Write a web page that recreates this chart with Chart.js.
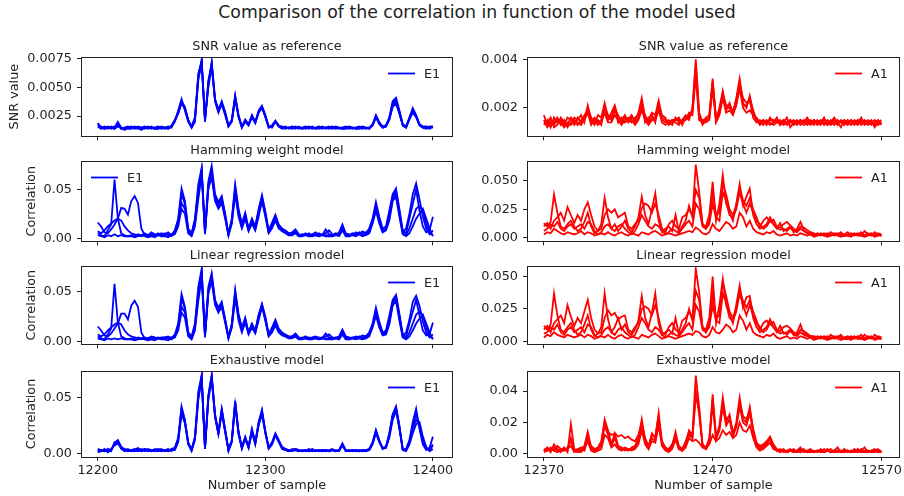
<!DOCTYPE html>
<html>
<head>
<meta charset="utf-8">
<script src="https://cdn.jsdelivr.net/npm/chart.js@4.4.0/dist/chart.umd.min.js"></script>
<style>
  body { margin: 0; width: 904px; height: 496px; background: #fff; position: relative; overflow: hidden; }
  canvas { position: absolute; }
  #main-title { position: absolute; top: 2px; left: 477px; transform: translateX(-50%); white-space: nowrap;
    font-family: 'DejaVu Sans'; font-size: 17.3px; line-height: 20px; color: #222; }
</style>
</head>
<body>
<div id="main-title">Comparison of the correlation in function of the model used</div>
<script>
// Sample axis (every 2nd sample)
const leftStart = 12200, rightStart = 12370, sampleStep = 2;
const xTicksE1 = [12200, 12300, 12400];
const xTicksA1 = [12370, 12470, 12570];

// y tick labels
const yTicksSnrE1 = ['0.0025', '0.0050', '0.0075'];
const yTicksSnrA1 = ['0.002', '0.004'];
const yTicksCorrE1 = ['0.00', '0.05'];
const yTicksCorrA1 = ['0.000', '0.025', '0.050'];
const yTicksExA1 = ['0.00', '0.02', '0.04'];

// SNR, E1 (x 1e-4)
const snrE1 = [
  [18,16,15,14,16,15,20,15,14,15, 16,15,14,15,16,15,14,15,16,15, 14,15,17,22,28,38,33,22,16,24,
   60,74,22,52,72,40,30,38,28,17, 22,43,26,16,22,18,26,20,30,34, 26,16,17,21,17,15,16,14,15,16,
   15,14,15,16,15,14,15,16,14,15, 16,15,14,15,16,15,14,15,16,15, 14,15,18,26,20,16,17,24,38,41,
   30,18,16,24,32,26,18,16,15,16, 16],
  [17,15,14,15,14,16,17,14,15,14, 14,16,15,13,15,14,16,14,15,14, 15,14,16,20,30,40,30,20,15,20,
   56,73,20,56,70,38,28,36,26,16, 20,40,24,15,20,17,24,19,28,33, 25,15,16,20,16,14,15,15,14,15,
   14,15,14,15,14,15,14,15,15,14, 15,14,15,14,15,14,15,14,15,14, 15,14,17,24,19,15,16,22,33,36,
   27,17,15,22,28,24,17,15,14,15, 15],
  [16,14,16,15,15,14,16,15,13,15, 15,14,15,14,15,15,15,14,14,15, 15,16,15,21,27,36,32,21,15,22,
   58,70,22,50,68,38,29,35,27,16, 21,41,25,16,21,17,25,20,28,32, 25,16,15,20,17,15,14,15,15,14,
   16,14,15,14,16,14,15,14,15,15, 14,15,15,14,14,15,15,14,14,15, 15,14,17,25,18,15,16,22,35,38,
   28,17,15,23,30,25,17,15,15,14, 16],
  [19,15,14,16,15,14,18,14,15,16, 15,15,16,15,14,16,15,15,14,16, 15,14,16,21,29,37,31,21,16,23,
   62,72,21,54,71,39,31,37,29,17, 21,42,25,15,21,18,25,19,29,33, 24,15,16,21,16,16,15,15,16,15,
   15,15,16,15,15,15,16,15,15,16, 15,16,15,15,15,16,15,15,15,16, 15,15,17,24,19,16,17,23,36,40,
   29,18,16,23,31,25,18,16,16,15, 16]
];

// Hamming weight model, E1 (x 1e-3)
const hwE1 = [
  [5,3,2,8,14,60,20,5,3,2, 3,2,4,3,5,3,6,4,3,5, 4,6,3,8,20,51,38,10,5,20,
   55,72,8,58,74,45,37,43,25,4, 20,55,30,15,26,10,20,12,30,44, 27,8,16,24,14,10,8,5,6,9,
   4,3,5,3,4,6,3,4,5,8, 4,3,6,14,5,4,3,6,4,7, 5,10,20,37,22,10,12,28,45,51,
   30,8,5,20,35,50,28,12,6,8, 22],
  [16,12,6,5,9,14,20,31,30,24, 38,43,36,10,3,2,4,3,5,3, 5,3,4,6,18,45,35,8,4,18,
   50,70,6,55,67,42,35,41,24,5, 18,52,28,14,24,9,18,11,28,42, 26,7,14,22,13,9,7,4,5,8,
   3,4,3,5,3,4,5,3,9,4, 3,5,4,12,4,3,5,4,6,5, 6,8,18,30,20,8,10,25,42,48,
   28,6,10,25,45,56,40,22,10,4, 8],
  [7,5,8,12,15,18,20,18,12,8, 5,4,3,2,4,3,2,3,4,2, 3,4,2,5,15,36,30,6,3,15,
   45,68,5,50,65,40,33,38,22,3, 16,48,25,12,22,8,16,9,25,40, 24,6,12,20,11,8,6,3,4,6,
   2,3,4,2,3,3,2,4,3,3, 2,4,3,10,3,2,4,3,5,3, 4,6,16,30,18,7,9,20,40,45,
   25,5,3,10,20,30,33,28,15,5, 3],
  [3,2,1,3,2,4,2,3,2,2, 2,1,2,3,2,1,2,1,3,2, 2,1,3,4,12,30,25,5,2,12,
   40,65,4,52,62,38,30,36,20,3, 15,45,22,10,20,7,15,8,22,38, 22,5,10,18,10,7,5,3,3,5,
   2,2,3,2,2,3,2,3,2,2, 2,3,2,8,2,2,3,2,4,2, 3,5,15,28,15,6,8,18,38,42,
   22,4,2,5,12,20,25,30,20,10, 2]
];

// Linear regression model, E1 (x 1e-3)
const lrE1 = [
  [5,3,2,7,13,58,19,5,3,2, 3,2,4,3,4,3,5,4,3,4, 4,5,3,7,18,48,35,9,5,18,
   55,73,8,55,69,42,34,40,23,4, 18,52,28,14,24,9,18,11,27,38, 25,7,14,22,13,9,7,5,5,8,
   4,3,5,3,4,5,3,4,5,7, 4,3,5,12,5,4,3,5,4,6, 5,9,18,34,20,9,11,26,42,47,
   28,7,5,18,30,42,26,11,6,7, 19],
  [15,11,6,5,8,13,18,28,28,22, 36,41,35,9,3,2,4,3,4,3, 4,3,4,5,16,43,33,8,4,16,
   50,71,6,52,66,40,32,38,22,5, 17,50,26,13,22,9,17,10,26,37, 24,7,13,20,12,8,6,4,5,7,
   3,4,3,4,3,4,4,3,8,4, 3,4,4,11,4,3,4,4,5,4, 5,7,16,29,18,8,9,23,40,46,
   26,6,9,22,40,46,36,20,9,4, 7],
  [7,5,7,11,14,17,19,17,11,7, 5,4,3,2,3,3,2,3,3,2, 3,4,2,5,14,35,29,6,3,14,
   46,68,5,48,63,39,31,36,21,3, 15,46,24,11,21,8,15,9,24,36, 22,6,11,18,10,7,5,3,4,5,
   2,3,3,2,3,3,2,3,3,3, 2,3,3,9,3,2,3,3,4,3, 4,6,15,28,17,7,8,19,38,44,
   24,5,3,9,18,27,30,26,14,5, 3],
  [3,2,1,3,2,3,2,3,2,2, 2,1,2,3,2,1,2,1,3,2, 2,1,3,4,11,29,24,5,2,11,
   41,64,4,50,60,37,29,35,19,3, 14,44,21,9,19,7,14,8,21,35, 21,5,9,16,9,6,5,3,3,5,
   2,2,3,2,2,3,2,3,2,2, 2,3,2,7,2,2,3,2,3,2, 3,5,14,26,14,6,7,17,36,41,
   21,4,2,5,11,18,23,27,18,9, 2]
];

// Exhaustive model, E1 (x 1e-3)
const exE1 = [
  [3,2,4,1,3,9,12,6,3,4, 2,3,5,2,4,3,2,4,3,2, 3,2,4,5,14,42,30,10,3,15,
   55,70,4,52,70,35,19,40,22,3, 12,47,20,5,15,6,22,10,28,39, 20,5,10,18,12,5,3,2,4,3,
   2,3,2,4,2,3,2,3,2,3, 4,2,3,9,3,2,3,2,3,2, 3,4,10,21,12,4,6,18,35,42,
   25,3,4,12,28,40,22,8,3,5, 15],
  [2,3,2,4,2,10,11,5,4,2, 3,2,3,4,2,4,3,2,3,4, 2,3,3,4,12,38,28,9,4,13,
   50,68,5,50,68,33,18,38,20,4, 11,45,18,6,14,5,20,9,26,37, 19,6,9,17,11,6,4,3,3,4,
   3,2,3,2,3,2,3,2,3,2, 3,3,2,8,2,3,2,3,2,3, 2,3,9,20,11,5,5,16,33,40,
   24,4,3,10,22,30,25,12,5,3, 8],
  [1,2,3,2,3,8,10,4,2,3, 2,2,3,2,3,2,3,3,2,3, 2,2,3,3,10,35,27,8,2,12,
   48,66,4,48,66,32,17,36,19,2, 10,43,17,4,13,5,19,8,25,35, 18,4,8,16,10,4,3,2,2,3,
   2,2,2,3,2,2,2,3,2,2, 3,2,2,7,2,2,3,2,2,2, 2,3,8,18,10,4,5,14,30,38,
   22,3,2,8,18,26,28,15,6,2, 4],
  [4,3,2,3,4,7,9,5,3,2, 3,4,2,3,4,3,2,3,4,3, 3,4,2,5,13,40,29,9,3,14,
   52,69,5,51,69,34,18,39,21,3, 11,46,19,5,14,6,21,9,27,38, 19,5,9,17,11,5,4,2,3,4,
   3,2,3,2,4,2,3,2,3,2, 3,2,3,8,3,2,2,3,2,3, 3,3,9,20,11,5,6,17,34,41,
   23,4,3,11,25,35,24,10,4,3, 7]
];

// SNR, A1 (x 1e-4)
const snrA1 = [
  [17,13,15,14,16,13,15,12,14,16, 15,17,14,21,15,13,17,16,22,15, 18,21,16,15,17,14,16,15,18,24,
   16,15,18,17,23,16,15,14,13,16, 14,15,17,16,19,40,18,14,16,17, 32,15,20,27,19,22,18,24,32,22,
   20,25,18,15,14,15,13,16,14,15, 13,14,16,12,14,15,13,14,16,14, 15,13,14,16,13,14,16,14,12,15,
   14,13,15,14,16,13,14,15,12,14, 15],
  [13,15,12,16,14,15,13,16,15,13, 16,14,17,19,14,16,14,15,20,16, 15,19,17,14,16,15,17,14,16,20,
   17,14,16,16,21,15,14,15,14,15, 15,14,16,17,18,35,16,15,15,16, 30,16,18,25,20,20,19,22,30,24,
   22,23,16,14,15,14,14,15,15,14, 14,15,13,14,15,14,15,13,14,15, 14,14,15,13,15,14,13,15,14,13,
   15,14,13,15,14,15,13,14,15,13, 14],
  [15,12,14,13,15,14,12,14,13,15, 14,13,15,18,13,15,13,14,18,14, 14,17,15,13,15,16,15,13,15,19,
   15,13,15,15,19,14,13,14,15,14, 13,15,15,18,17,33,15,14,14,15, 28,14,17,24,18,19,17,21,28,20,
   18,19,17,16,14,13,15,14,13,14, 15,13,14,15,13,14,14,15,13,14, 13,15,14,14,13,15,14,13,15,14,
   13,15,14,13,15,14,14,13,14,15, 13],
  [14,14,16,12,13,16,14,13,16,14, 13,15,16,20,16,14,15,13,21,17, 16,20,14,16,14,15,14,16,17,22,
   14,16,17,14,22,17,16,13,15,15, 16,13,16,15,20,38,17,13,15,16, 31,15,19,26,21,21,18,23,31,21,
   21,24,19,15,13,15,14,13,14,16, 13,15,14,15,14,13,15,14,15,13, 15,14,13,15,14,13,15,14,14,15,
   14,15,14,15,13,14,15,14,13,14, 14]
];

// Hamming weight model, A1 (x 1e-3)
const hwA1 = [
  [13,10,14,38,22,10,8,12,15,10, 6,8,14,22,10,4,6,12,35,18, 8,12,6,10,15,8,5,10,18,36,
   20,12,25,39,15,5,8,10,6,20, 5,10,15,28,18,64,40,12,10,20, 49,15,30,55,30,22,15,30,47,28,
   36,43,20,12,8,10,12,18,12,8, 13,6,8,10,5,8,14,7,5,4, 3,2,4,3,2,5,3,4,2,3,
   5,2,3,4,2,6,3,2,5,3, 2],
  [10,13,8,15,18,22,15,27,20,13, 20,15,25,31,20,10,6,8,20,25, 22,25,18,20,22,10,8,12,15,26,
   30,28,22,30,20,8,5,12,15,10, 8,18,20,25,20,42,35,12,8,15, 40,20,22,48,38,25,20,28,44,33,
   28,35,25,18,10,15,18,14,16,10, 9,12,14,11,8,6,10,9,7,5, 4,3,2,4,3,2,4,3,5,2,
   3,4,2,3,5,2,4,3,2,4, 3],
  [6,8,12,10,14,8,6,10,12,8, 10,12,8,14,12,6,3,5,10,12, 8,6,10,12,8,5,3,6,12,20,
   15,10,8,12,10,6,3,5,8,6, 4,8,12,15,10,30,25,10,8,12, 30,18,15,40,32,20,18,25,40,30,
   22,30,22,15,12,8,10,15,12,9, 7,8,6,9,6,5,8,6,4,3, 2,4,3,2,4,3,2,3,4,2,
   2,3,4,2,3,2,3,4,2,3, 2],
  [3,5,4,8,6,4,3,5,4,3, 4,6,3,5,4,2,3,4,3,5, 3,2,4,5,3,2,4,3,2,5,
   4,3,5,6,4,2,3,4,3,2, 3,4,5,6,5,9,7,4,3,5, 12,8,6,10,14,12,8,10,22,18,
   10,15,8,5,4,3,5,4,6,3, 2,3,4,2,3,2,4,3,2,3, 1,2,3,2,1,2,3,2,1,2,
   2,1,3,2,2,1,2,3,1,2, 2]
];

// Linear regression model, A1 (x 1e-3)
const lrA1 = [
  [12,9,13,37,20,9,7,11,14,9, 5,7,13,20,9,4,6,11,37,17, 7,11,18,9,13,7,5,9,16,35,
   18,11,22,37,14,5,7,9,6,18, 5,9,14,25,16,56,38,11,9,18, 50,14,28,48,28,20,14,28,43,26,
   34,35,18,11,7,9,11,17,11,7, 12,6,7,9,5,7,13,6,5,4, 3,2,4,3,2,5,3,4,2,3,
   4,2,3,4,2,5,3,2,5,3, 2],
  [9,12,7,14,17,20,14,28,19,12, 18,14,23,32,18,9,6,7,18,24, 20,22,17,19,20,9,7,11,14,25,
   27,25,20,28,18,7,5,11,14,9, 7,16,18,23,18,39,32,11,7,14, 37,18,20,46,35,23,18,26,40,31,
   26,32,23,16,9,14,16,13,15,9, 8,11,12,10,7,5,9,8,6,4, 4,3,2,4,3,2,4,3,5,2,
   3,4,2,3,5,2,4,3,2,4, 3],
  [6,7,11,9,13,7,5,9,11,7, 9,11,7,13,11,5,3,5,9,11, 7,5,9,11,7,5,3,5,11,18,
   14,9,7,11,9,5,3,5,7,5, 4,7,11,14,9,28,23,9,7,11, 28,16,14,37,30,18,16,23,37,28,
   20,28,20,14,11,7,9,14,11,8, 6,7,5,8,5,4,7,5,4,3, 2,4,3,2,4,3,2,3,4,2,
   2,3,4,2,3,2,3,4,2,3, 2],
  [3,5,4,7,5,4,3,5,4,3, 4,5,3,5,4,2,3,4,3,5, 3,2,4,5,3,2,4,3,2,5,
   4,3,5,6,4,2,3,4,3,2, 3,4,5,6,5,8,7,4,3,5, 11,7,6,9,13,11,7,9,20,16,
   9,14,7,5,4,3,5,4,6,3, 2,3,4,2,3,2,4,3,2,3, 1,2,3,2,1,2,3,2,1,2,
   2,1,3,2,2,1,2,3,1,2, 2]
];

// Exhaustive model, A1 (x 1e-3)
const exA1 = [
  [2,4,1,6,3,2,4,1,19,3, 2,3,5,14,4,2,3,6,22,15, 6,13,5,4,3,2,4,5,10,22,
   8,4,13,10,26,6,3,2,5,14, 4,2,6,15,12,50,30,5,3,8, 38,10,18,36,20,25,12,20,36,22,
   20,30,15,5,3,4,6,10,4,2, 3,1,2,3,1,2,4,1,2,3, 1,2,1,3,2,1,2,4,1,2,
   2,1,3,1,2,4,1,2,3,1, 2],
  [3,2,4,2,5,3,2,4,8,2, 3,4,2,10,5,3,4,8,20,14, 12,13,11,12,10,11,9,8,12,20,
   10,5,12,11,24,8,4,3,6,12, 5,3,8,14,10,37,28,6,4,10, 35,12,16,33,22,24,14,18,33,24,
   22,28,16,7,5,6,8,11,6,3, 2,3,1,2,3,1,2,3,1,2, 2,1,3,1,2,3,1,2,1,3,
   1,2,1,3,1,2,2,1,2,3, 1],
  [1,2,3,2,1,3,2,3,5,1, 2,1,3,8,2,1,2,3,12,10, 4,6,3,2,4,3,2,3,6,15,
   6,3,8,7,18,5,2,1,3,9, 3,2,4,10,8,9,7,4,3,6, 12,8,10,15,12,14,10,12,20,15,
   14,18,10,4,2,3,5,7,3,2, 1,2,1,2,1,2,1,2,1,1, 1,2,1,1,2,1,1,2,1,1,
   2,1,1,2,1,1,2,1,1,2, 1],
  [2,3,2,4,2,1,3,2,10,2, 1,2,4,12,3,2,3,5,18,12, 5,10,4,3,2,3,3,4,8,18,
   7,3,10,8,22,5,3,2,4,12, 3,2,5,12,10,40,25,5,3,7, 32,9,15,30,18,22,11,17,30,20,
   18,26,13,6,4,5,7,9,4,2, 2,2,1,2,2,1,3,2,1,2, 1,2,2,1,3,1,2,1,2,1,
   2,1,2,1,3,1,1,2,2,1, 1]
];

Chart.defaults.font.family = 'DejaVu Sans';
Chart.defaults.font.size = 12.8;
Chart.defaults.color = '#222';

// Layout of the 4x2 grid
const cols = [
  { canvasLeft: 0, canvasW: 456, padRight: 3, xMin: 12190, xMax: 12412, start: leftStart, xTicks: xTicksE1, color: '#0000ff', legend: 'E1' },
  { canvasLeft: 460, canvasW: 444, padRight: 4, xMin: 12360, xMax: 12581, start: rightStart, xTicks: xTicksA1, color: '#ff0000', legend: 'A1' }
];
const rows = [
  { top: 57, bottom: 144 },
  { top: 161, bottom: 249 },
  { top: 266, bottom: 352 },
  { top: 371, bottom: 457 }
];

// Frame, subplot title and legend drawn like matplotlib
const panelDeco = {
  id: 'panelDeco',
  afterDraw(chart, args, opts) {
    const { ctx, chartArea: a } = chart;
    ctx.save();
    ctx.strokeStyle = '#222';
    ctx.lineWidth = 1;
    ctx.strokeRect(Math.round(a.left) + 0.5, Math.round(a.top) + 0.5, Math.round(a.right - a.left) - 1, Math.round(a.bottom - a.top));
    ctx.fillStyle = '#222';
    ctx.font = '12.8px "DejaVu Sans"';
    ctx.textAlign = 'center';
    ctx.textBaseline = 'alphabetic';
    ctx.fillText(opts.title, (a.left + a.right) / 2, a.top - 7.5);
    const ly = a.top + 16.5;
    const x1 = opts.legendLeft ? a.left + 10 : a.right - 65;
    ctx.strokeStyle = opts.color;
    ctx.lineWidth = 1.8;
    ctx.beginPath();
    ctx.moveTo(x1, ly);
    ctx.lineTo(x1 + 27, ly);
    ctx.stroke();
    ctx.textAlign = 'left';
    ctx.textBaseline = 'middle';
    ctx.fillText(opts.legend, x1 + 36, ly + 1);
    ctx.restore();
  }
};

const panels = [
  { col: 0, row: 0, title: 'SNR value as reference', traces: snrE1, unit: 1e-4, yMin: 0.00075, yMax: 0.00763, yTicks: yTicksSnrE1, yTitle: 'SNR value', padLeft: 7 },
  { col: 0, row: 1, title: 'Hamming weight model', traces: hwE1, unit: 1e-3, yMin: -0.0032, yMax: 0.0789, yTicks: yTicksCorrE1, yTitle: 'Correlation', padLeft: 24, legendLeft: true },
  { col: 0, row: 2, title: 'Linear regression model', traces: lrE1, unit: 1e-3, yMin: -0.003, yMax: 0.0761, yTicks: yTicksCorrE1, yTitle: 'Correlation', padLeft: 24 },
  { col: 0, row: 3, title: 'Exhaustive model', traces: exE1, unit: 1e-3, yMin: -0.0032, yMax: 0.0736, yTicks: yTicksCorrE1, yTitle: 'Correlation', padLeft: 24 },
  { col: 1, row: 0, title: 'SNR value as reference', traces: snrA1, unit: 1e-4, yMin: 0.00083, yMax: 0.00409, yTicks: yTicksSnrA1, padLeft: 0 },
  { col: 1, row: 1, title: 'Hamming weight model', traces: hwA1, unit: 1e-3, yMin: -0.003, yMax: 0.0672, yTicks: yTicksCorrA1, padLeft: 0 },
  { col: 1, row: 2, title: 'Linear regression model', traces: lrA1, unit: 1e-3, yMin: -0.0023, yMax: 0.0581, yTicks: yTicksCorrA1, padLeft: 0 },
  { col: 1, row: 3, title: 'Exhaustive model', traces: exA1, unit: 1e-3, yMin: -0.0021, yMax: 0.0529, yTicks: yTicksExA1, padLeft: 0 }
];

function buildPanel(p) {
  const col = cols[p.col];
  const row = rows[p.row];
  const bottomRow = p.row === 3;
  const padTop = 26;
  const xH = bottomRow ? 36 : 5;
  const chartLeft = p.col === 0 ? 81 : 527;
  const yW = chartLeft - col.canvasLeft - p.padLeft;
  const cw = col.canvasW;
  const ch = padTop + (row.bottom - row.top) + xH;

  const canvas = document.createElement('canvas');
  canvas.width = cw;
  canvas.height = ch;
  canvas.style.left = col.canvasLeft + 'px';
  canvas.style.top = (row.top - padTop) + 'px';
  canvas.style.width = cw + 'px';
  canvas.style.height = ch + 'px';
  document.body.appendChild(canvas);

  const datasets = p.traces.map(trace => ({
    data: trace.map((v, i) => ({ x: col.start + i * sampleStep, y: v * p.unit })),
    borderColor: col.color,
    borderWidth: 1.8,
    pointRadius: 0,
    tension: 0,
    fill: false
  }));

  const tickGrid = { drawOnChartArea: false, drawTicks: true, tickLength: 4, tickColor: '#222', tickWidth: 1 };

  new Chart(canvas, {
    type: 'line',
    data: { datasets },
    options: {
      responsive: false,
      animation: false,
      devicePixelRatio: 1,
      events: [],
      layout: { padding: { left: p.padLeft, right: col.padRight, top: padTop, bottom: 0 } },
      plugins: {
        legend: { display: false },
        tooltip: { enabled: false },
        panelDeco: { title: p.title, legend: col.legend, color: col.color, legendLeft: !!p.legendLeft }
      },
      scales: {
        x: {
          type: 'linear',
          min: col.xMin,
          max: col.xMax,
          afterBuildTicks: s => { s.ticks = col.xTicks.map(v => ({ value: v })); },
          afterFit: s => { s.height = xH; },
          grid: tickGrid,
          border: { display: false },
          ticks: { color: '#222', padding: 2, maxRotation: 0, autoSkip: false, callback: v => bottomRow ? String(v) : '' },
          title: { display: bottomRow, text: 'Number of sample', color: '#222', padding: { top: 0, bottom: 0 } }
        },
        y: {
          type: 'linear',
          min: p.yMin,
          max: p.yMax,
          afterBuildTicks: s => { s.ticks = p.yTicks.map(t => ({ value: parseFloat(t) })); },
          afterFit: s => { s.width = yW; },
          grid: tickGrid,
          border: { display: false },
          ticks: { color: '#222', padding: 5, callback: v => p.yTicks.find(t => Math.abs(parseFloat(t) - v) < 1e-9) || '' },
          title: { display: !!p.yTitle, text: p.yTitle || '', color: '#222', padding: { top: 0, bottom: 0 } }
        }
      }
    },
    plugins: [panelDeco]
  });
}

panels.forEach(buildPanel);
</script>
</body>
</html>
